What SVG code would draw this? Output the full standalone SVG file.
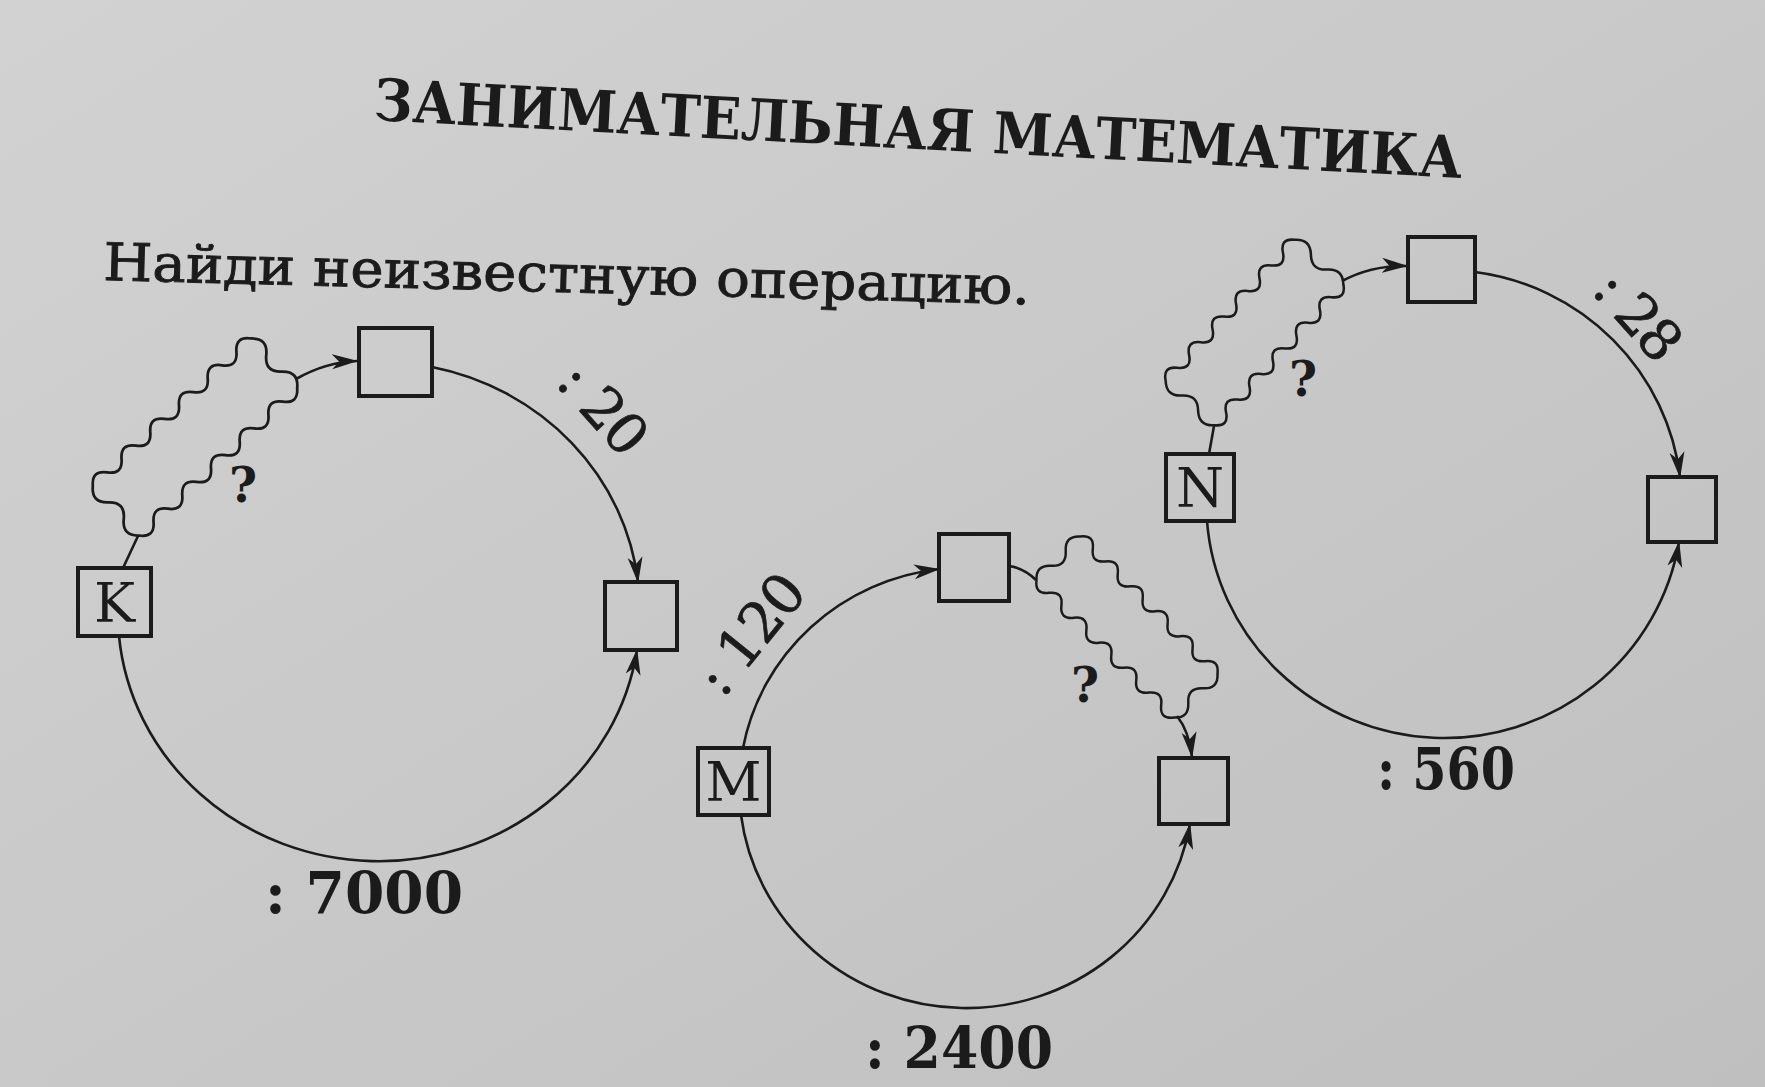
<svg xmlns="http://www.w3.org/2000/svg" xmlns:xlink="http://www.w3.org/1999/xlink" width="1765" height="1087" viewBox="0 0 1765 1087">
<style>
.bg{fill:url(#paper)}
.box{fill:none;stroke:#1b1b1b;stroke-width:4}
.arc{fill:none;stroke:#1b1b1b;stroke-width:2.6}
.arr{fill:none;stroke:#1b1b1b;stroke-width:2.6;marker-end:url(#ah)}
.wave{fill:none;stroke:#1b1b1b;stroke-width:2.6;vector-effect:non-scaling-stroke}
text{font-family:"DejaVu Serif","Liberation Serif",serif;fill:#1b1b1b}
.letter{font-size:55px;text-anchor:middle}
.q{font-size:48px;font-weight:bold;text-anchor:middle}
.rot{font-size:56px;text-anchor:middle;stroke:#1b1b1b;stroke-width:0.7}
.bot{font-size:58px;font-weight:bold}
.sub{stroke:#1b1b1b;stroke-width:0.9}
</style>
<defs>
<linearGradient id="paper" x1="0" y1="0" x2="1" y2="1">
<stop offset="0" stop-color="#d2d2d2"/>
<stop offset="1" stop-color="#bfbfbf"/>
</linearGradient>
<marker id="ah" markerUnits="userSpaceOnUse" markerWidth="26" markerHeight="16" viewBox="0 0 26 16" refX="25" refY="8" orient="auto">
<path d="M0,0.5 L26,8 L0,15.5 L7,8 Z" fill="#1b1b1b"/>
</marker>
<path id="wv" d="M-100,-33 q9.09,-12 18.18,0 t18.18,0 t18.18,0 t18.18,0 t18.18,0 t18.18,0 t18.18,0 t18.18,0 t18.18,0 t18.18,0 t18.2,0 q12,11 0,22 t0,22 t0,22 q-9.09,12 -18.18,0 t-18.18,0 t-18.18,0 t-18.18,0 t-18.18,0 t-18.18,0 t-18.18,0 t-18.18,0 t-18.18,0 t-18.18,0 t-18.2,0 q-12,-11 0,-22 t0,-22 t0,-22 Z"/>
</defs>
<rect class="bg" x="0" y="0" width="1765" height="1087"/>

<g id="title">
<text x="373" y="120" transform="rotate(3.05 373 120)" font-size="58" font-weight="bold" textLength="1090" lengthAdjust="spacingAndGlyphs">ЗАНИМАТЕЛЬНАЯ МАТЕМАТИКА</text>
<text class="sub" x="103" y="280" transform="rotate(1.5 103 280)" font-size="52" textLength="927" lengthAdjust="spacingAndGlyphs">Найди неизвестную операцию.</text>
</g>

<g id="connectors">
<!-- diagram K -->
<path class="arr" d="M432,367 A261,248 0 0 1 638,582"/>
<path class="arr" d="M119,636 A261,248 0 0 0 637,650"/>
<path class="arc" d="M123,568 L138,536"/>
<path class="arr" d="M296,379 Q326,362 357,361"/>
<!-- diagram M -->
<path class="arr" d="M743,748 A227,221 0 0 1 939,569"/>
<path class="arr" d="M741,815 A227,221 0 0 0 1190,824"/>
<path class="arc" d="M1009,566 Q1024,568 1036,580"/>
<path class="arr" d="M1177,716 Q1189,731 1192,757"/>
<!-- diagram N -->
<path class="arr" d="M1475,272 A238,235 0 0 1 1680,477"/>
<path class="arr" d="M1207,521 A238,235 0 0 0 1679,542"/>
<path class="arc" d="M1209,454 L1214,426"/>
<path class="arr" d="M1342,281 Q1372,265 1407,266"/>
<!-- labels -->
<text class="rot" transform="translate(603,409) rotate(48)" x="0" y="19" textLength="103" lengthAdjust="spacing">: 20</text>
<text class="rot" transform="translate(1638,316) rotate(48)" x="0" y="19" textLength="100" lengthAdjust="spacing">: 28</text>
<text class="rot" transform="translate(751,634) rotate(-51)" x="0" y="19" textLength="137" lengthAdjust="spacing">: 120</text>
<text class="bot" x="265" y="913" textLength="198" lengthAdjust="spacingAndGlyphs">: 7000</text>
<text class="bot" x="865" y="1068" textLength="188" lengthAdjust="spacingAndGlyphs">: 2400</text>
<text class="bot" x="1377" y="789" textLength="138" lengthAdjust="spacingAndGlyphs">: 560</text>
</g>

<g id="node-K"><rect class="box" x="78" y="568" width="73" height="68"/><text class="letter" x="114.5" y="622">K</text></g>
<g id="node-K-top"><rect class="box" x="359" y="328" width="73" height="68"/></g>
<g id="node-K-right"><rect class="box" x="605" y="582" width="72" height="68"/></g>
<g id="node-K-op"><use href="#wv" xlink:href="#wv" class="wave" transform="translate(195,437) rotate(-43) scale(1.08,1.03)"/><text class="q" x="243" y="502">?</text></g>

<g id="node-M"><rect class="box" x="698" y="748" width="71" height="67"/><text class="letter" x="733.5" y="801">M</text></g>
<g id="node-M-top"><rect class="box" x="939" y="534" width="70" height="67"/></g>
<g id="node-M-right"><rect class="box" x="1159" y="758" width="69" height="66"/></g>
<g id="node-M-op"><use href="#wv" xlink:href="#wv" class="wave" transform="translate(1127,627) rotate(45) scale(0.97,0.94)"/><text class="q" x="1085" y="702">?</text></g>

<g id="node-N"><rect class="box" x="1166" y="454" width="68" height="67"/><text class="letter" x="1200" y="507">N</text></g>
<g id="node-N-top"><rect class="box" x="1408" y="237" width="67" height="65"/></g>
<g id="node-N-right"><rect class="box" x="1648" y="477" width="68" height="65"/></g>
<g id="node-N-op"><use href="#wv" xlink:href="#wv" class="wave" transform="translate(1254.5,332.5) rotate(-47.5) scale(0.955,1)"/><text class="q" x="1303" y="396">?</text></g>
</svg>
